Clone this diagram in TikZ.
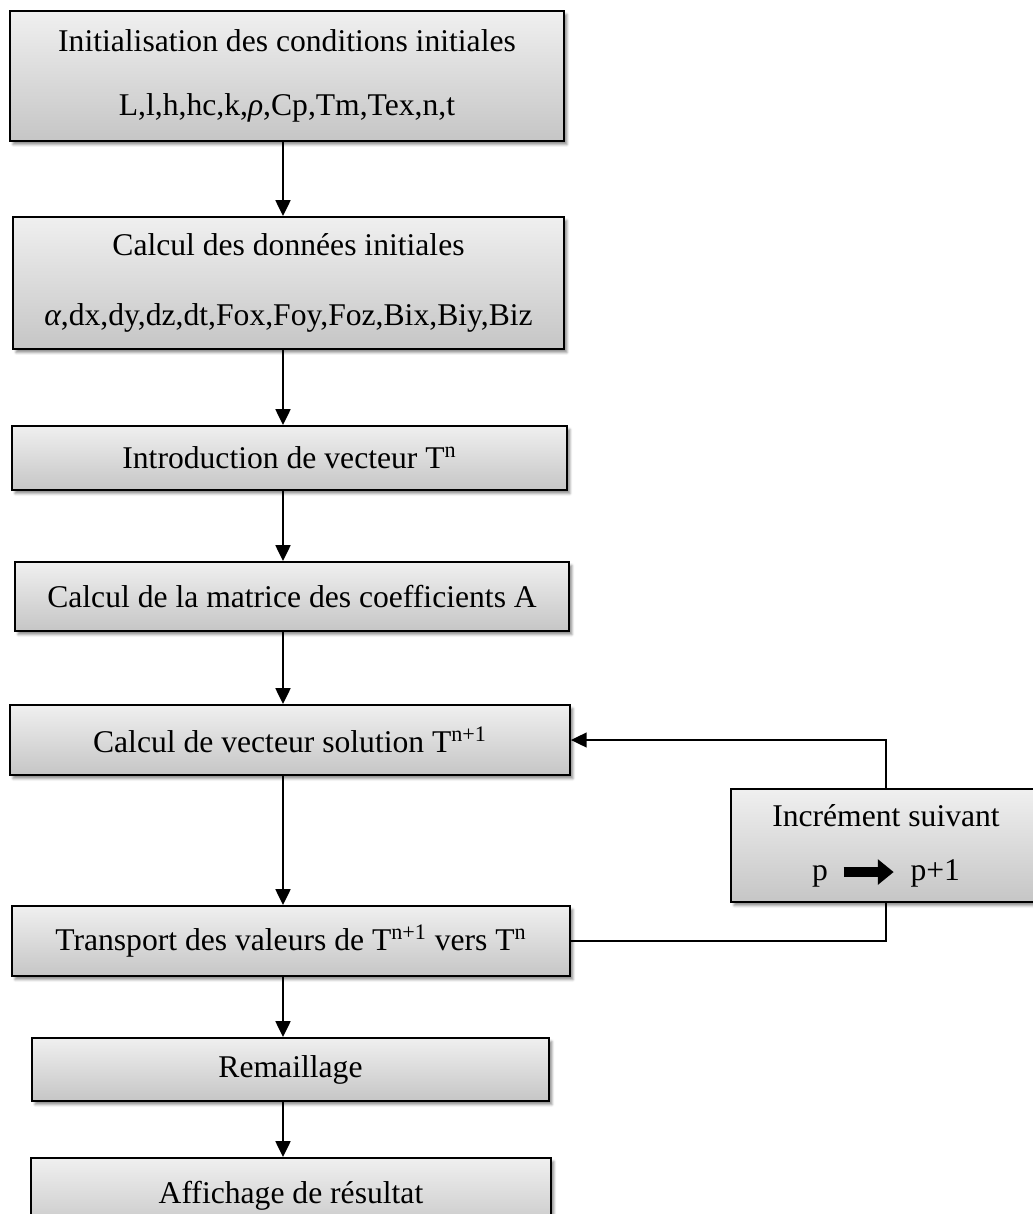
\documentclass[tikz,border=0pt]{standalone}
\usepackage{fontspec}
\setmainfont{Liberation Serif}
\usetikzlibrary{arrows.meta,shadows.blur}

\begin{document}
\begin{tikzpicture}[x=0.02cm,y=-0.02cm,>={Triangle[length=9pt,width=8.5pt]},every node/.style={font=\fontsize{18}{24}\selectfont},
  etape/.style={draw,line width=1.1pt,top color=gray!12,bottom color=gray!45,inner sep=0pt,align=center,
    blur shadow={shadow xshift=0.06cm,shadow yshift=-0.07cm,shadow blur radius=0.05cm,shadow opacity=45}}]
\useasboundingbox (0,0) rectangle (1033,1214);
\coordinate (spine) at (283,0);
\coordinate (loop) at (886,0);
\node[etape,minimum width=11.08cm,minimum height=2.6cm] (init) at (287,76) {Initialisation des conditions initiales\\[12pt] L,l,h,hc,k,\textit{ρ},Cp,Tm,Tex,n,t};
\node[etape,minimum width=11.02cm,minimum height=2.64cm] (donnees) at (288.5,283) {Calcul des données initiales\\[16pt] \textit{α},dx,dy,dz,dt,Fox,Foy,Foz,Bix,Biy,Biz};
\node[etape,minimum width=11.1cm,minimum height=1.28cm] (vecteur) at (289.5,458) {Introduction de vecteur T\textsuperscript{n}};
\node[etape,minimum width=11.08cm,minimum height=1.38cm] (matrice) at (292,596.5) {Calcul de la matrice des coefficients A};
\node[etape,minimum width=11.2cm,minimum height=1.4cm] (solution) at (290,740) {Calcul de vecteur solution T\textsuperscript{n+1}};
\node[etape,minimum width=6.2cm,minimum height=2.26cm] (increment) at (886,845.5) {Incrément suivant\\[6.6pt] p\hspace{0.22cm}\tikz[x=1cm,y=1cm,baseline=-0.55ex]\draw[line width=5.5pt,-{Triangle[length=9pt,width=14pt]}] (0,0) -- (1,0);\hspace{0.24cm}p+1};
\node[etape,minimum width=11.16cm,minimum height=1.4cm] (transport) at (291,941) {Transport des valeurs de T\textsuperscript{n+1} vers T\textsuperscript{n}};
\node[etape,minimum width=10.34cm,minimum height=1.26cm] (remaillage) at (290.5,1069.5) {Remaillage};
\node[etape,minimum width=10.4cm,minimum height=1.52cm] (affichage) at (291,1196) {Affichage de résultat};
\foreach \a/\b in {init/donnees,donnees/vecteur,vecteur/matrice,matrice/solution,solution/transport,transport/remaillage,remaillage/affichage}
  \draw[->,line width=1.1pt] (\a.south -| spine) -- (\b.north -| spine);
\draw[->,line width=0.9pt] (increment.north -| loop) |- (solution.east);
\draw[line width=0.8pt] (transport.east) -| (increment.south -| loop);
\end{tikzpicture}
\end{document}
